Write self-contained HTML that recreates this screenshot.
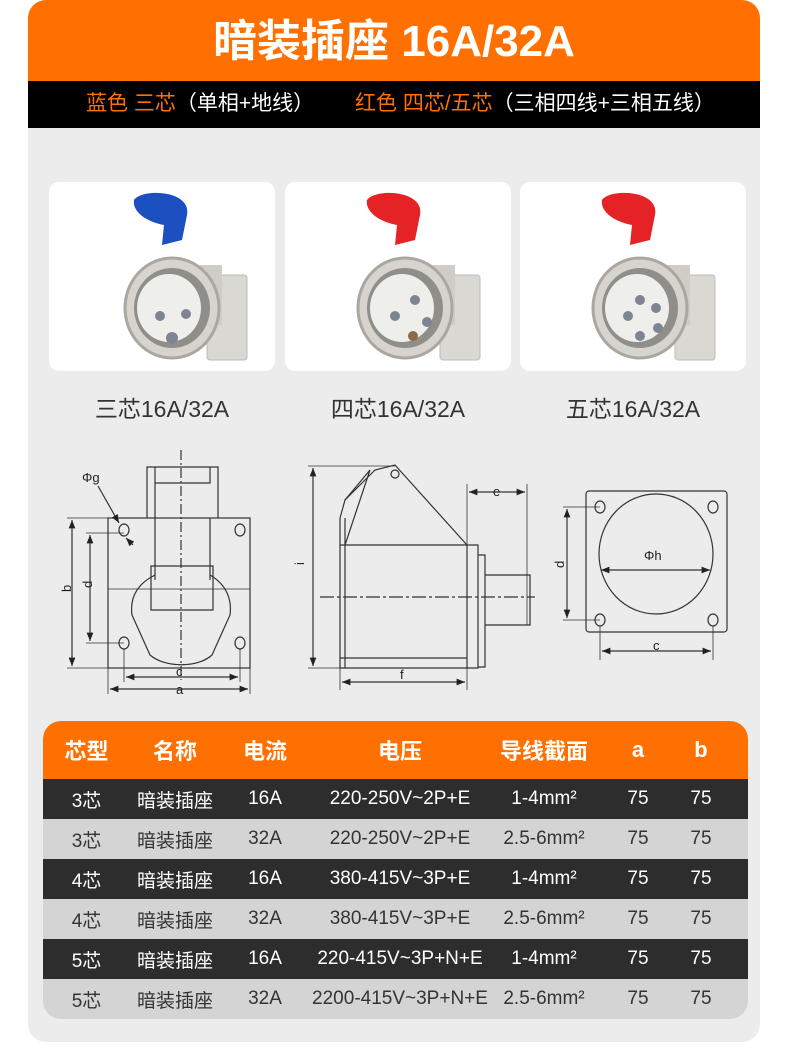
<!DOCTYPE html>
<html><head><meta charset="utf-8"><style>
body{margin:0;width:790px;height:1056px;background:#fff;font-family:"Liberation Sans","Noto Sans CJK SC",sans-serif;position:relative;overflow:hidden}
.panel{position:absolute;left:28px;top:0;width:732px;height:1042px;background:#ececec;border-radius:18px;overflow:hidden}
.hdr{position:absolute;left:0;top:0;width:732px;height:81px;background:#ff7000;color:#fff;font-size:44px;font-weight:bold;text-align:center;line-height:84px}
.bar{position:absolute;left:0;top:81px;width:732px;height:47px;background:#000;color:#fff;font-size:21px;line-height:46px;white-space:nowrap}
.o{color:#ff7000}
.card{position:absolute;top:182px;width:226px;height:189px;background:#fff;border-radius:10px}
.lab{position:absolute;top:390px;font-size:23px;color:#333;width:226px;text-align:center}
table{position:absolute;left:15px;top:721px;width:705px;border-collapse:collapse;border-radius:18px;overflow:hidden;table-layout:fixed}
td,th{text-align:center;padding:0;height:40px;font-size:19px;font-weight:normal}
th{height:58px;background:#ff7000;color:#fff;font-size:22px;font-weight:bold}
tr.d td{background:#2d2d2d;color:#fff}
tr.l td{background:#d4d4d4;color:#333}
td:last-child,th:last-child{padding-right:24px}
</style></head><body>
<div class="panel">
<div class="hdr">暗装插座 16A/32A</div>
<div class="bar"><span style="position:absolute;left:58px"><span class="o">蓝色 三芯</span>（单相+地线）</span><span style="position:absolute;left:327px"><span class="o">红色 四芯/五芯</span>（三相四线+三相五线）</span></div>
<div class="card" style="left:21px"></div>
<div class="card" style="left:257px"></div>
<div class="card" style="left:492px"></div>
<div class="lab" style="left:21px">三芯16A/32A</div>
<div class="lab" style="left:257px">四芯16A/32A</div>
<div class="lab" style="left:492px">五芯16A/32A</div>
<table>
<colgroup><col style="width:87px"><col style="width:90px"><col style="width:90px"><col style="width:180px"><col style="width:108px"><col style="width:80px"><col style="width:70px"></colgroup>
<tr><th>芯型</th><th>名称</th><th>电流</th><th>电压</th><th>导线截面</th><th>a</th><th>b</th></tr>
<tr class="d"><td>3芯</td><td>暗装插座</td><td>16A</td><td>220-250V~2P+E</td><td>1-4mm²</td><td>75</td><td>75</td></tr>
<tr class="l"><td>3芯</td><td>暗装插座</td><td>32A</td><td>220-250V~2P+E</td><td>2.5-6mm²</td><td>75</td><td>75</td></tr>
<tr class="d"><td>4芯</td><td>暗装插座</td><td>16A</td><td>380-415V~3P+E</td><td>1-4mm²</td><td>75</td><td>75</td></tr>
<tr class="l"><td>4芯</td><td>暗装插座</td><td>32A</td><td>380-415V~3P+E</td><td>2.5-6mm²</td><td>75</td><td>75</td></tr>
<tr class="d"><td>5芯</td><td>暗装插座</td><td>16A</td><td>220-415V~3P+N+E</td><td>1-4mm²</td><td>75</td><td>75</td></tr>
<tr class="l"><td>5芯</td><td>暗装插座</td><td>32A</td><td>2200-415V~3P+N+E</td><td>2.5-6mm²</td><td>75</td><td>75</td></tr>
</table>
</div>
<svg width="790" height="1056" style="position:absolute;left:0;top:0" xmlns="http://www.w3.org/2000/svg">
<defs>
<marker id="a" viewBox="0 0 10 10" refX="10" refY="5" markerWidth="7" markerHeight="7" orient="auto-start-reverse"><path d="M0,1L10,5L0,9z" fill="#222"/></marker>
<g id="sock">
<rect x="35" y="75" width="40" height="85" rx="3" fill="#d9d8d2" stroke="#bbb"/>
<rect x="5" y="65" width="45" height="60" fill="#cfcdc6"/>
<ellipse cx="0" cy="108" rx="47" ry="50" fill="#d6d4cd" stroke="#a9a7a0" stroke-width="3"/>
<ellipse cx="0" cy="108" rx="38" ry="40" fill="#8f8e88"/>
<ellipse cx="-3" cy="108" rx="32" ry="34" fill="#eeeeea"/>
</g>
</defs>
<g transform="translate(172,200)">
<use href="#sock"/>
<path d="M-38,0 C-30,-12 20,-10 15,15 L10,40 L-10,45 L-8,25 C-25,22 -40,12 -38,0z" fill="#1c4fbf"/>
<circle cx="-12" cy="116" r="5" fill="#7c8591"/><circle cx="14" cy="114" r="5" fill="#7c8591"/><circle cx="0" cy="138" r="6" fill="#7c8591"/>
</g>
<g transform="translate(405,200)">
<use href="#sock"/>
<path d="M-38,0 C-30,-12 20,-10 15,15 L10,40 L-10,45 L-8,25 C-25,22 -40,12 -38,0z" fill="#e52226"/>
<circle cx="-10" cy="116" r="5" fill="#7c8591"/><circle cx="10" cy="100" r="5" fill="#7c8591"/><circle cx="22" cy="122" r="5" fill="#7c8591"/><circle cx="8" cy="136" r="5" fill="#8a6b50"/>
</g>
<g transform="translate(640,200)">
<use href="#sock"/>
<path d="M-38,0 C-30,-12 20,-10 15,15 L10,40 L-10,45 L-8,25 C-25,22 -40,12 -38,0z" fill="#e52226"/>
<circle cx="-12" cy="116" r="5" fill="#7c8591"/><circle cx="0" cy="100" r="5" fill="#7c8591"/><circle cx="16" cy="108" r="5" fill="#7c8591"/><circle cx="18" cy="128" r="5" fill="#7c8591"/><circle cx="0" cy="136" r="5" fill="#7c8591"/>
</g>
<g fill="none" stroke="#333" stroke-width="1.2" font-family="Liberation Sans" font-size="12">
<rect x="108" y="518" width="142" height="150"/>
<path d="M147,518V467H218V518"/><path d="M155,518V467"/><path d="M155,483H210V467"/>
<path d="M155,518V580M210,518V580"/>
<path d="M155,575C135,585 130,600 132,615L150,655C165,668 198,668 212,655L230,615C232,600 227,585 210,575"/>
<path d="M151,566H213V610H151z"/>
<path d="M181,450V680" stroke-dasharray="10,3,2,3"/><path d="M108,589H250" stroke-width="0.8"/>
<ellipse cx="124" cy="530" rx="5" ry="6"/><ellipse cx="240" cy="530" rx="5" ry="6"/><ellipse cx="124" cy="643" rx="5" ry="6"/><ellipse cx="240" cy="643" rx="5" ry="6"/>
<path d="M67,518H108M67,668H108M86,533H124M86,643H124" stroke-width="0.8"/>
<path d="M72,520V666" marker-start="url(#a)" marker-end="url(#a)"/>
<path d="M90,535V641" marker-start="url(#a)" marker-end="url(#a)"/>
<path d="M124,649V682M240,649V682M108,668V694M250,668V694" stroke-width="0.8"/>
<path d="M126,677H238" marker-start="url(#a)" marker-end="url(#a)"/>
<path d="M110,689H248" marker-start="url(#a)" marker-end="url(#a)"/>
<path d="M98,486L119,523" marker-end="url(#a)"/><path d="M133,545L126,538" marker-end="url(#a)"/>
<path d="M340,518V668H467V545H478V668H467"/><path d="M345,518V668"/>
<path d="M340,518L345,500L375,470L395,465L467,545"/><path d="M340,545H467"/>
<path d="M345,500L370,470L345,545"/>
<circle cx="395" cy="474" r="4"/>
<path d="M340,658H467"/><path d="M478,555H485V667H478"/><path d="M485,575H530V625H485"/>
<path d="M320,597H535" stroke-dasharray="14,3,3,3"/>
<path d="M308,466H395M308,668H340" stroke-width="0.8"/>
<path d="M313,468V666" marker-start="url(#a)" marker-end="url(#a)"/>
<path d="M340,668V690M467,668V690M467,484V545M527,484V625" stroke-width="0.8"/>
<path d="M342,682H465" marker-start="url(#a)" marker-end="url(#a)"/>
<path d="M469,492H525" marker-start="url(#a)" marker-end="url(#a)"/>
<rect x="586" y="491" width="141" height="141" rx="3"/>
<ellipse cx="656" cy="554" rx="57" ry="60"/>
<ellipse cx="600" cy="507" rx="5" ry="6"/><ellipse cx="713" cy="507" rx="5" ry="6"/><ellipse cx="600" cy="620" rx="5" ry="6"/><ellipse cx="713" cy="620" rx="5" ry="6"/>
<path d="M601,570H710" marker-start="url(#a)" marker-end="url(#a)"/>
<path d="M563,507H600M563,620H600M600,626V660M713,626V660" stroke-width="0.8"/>
<path d="M567,509V618" marker-start="url(#a)" marker-end="url(#a)"/>
<path d="M602,651H711" marker-start="url(#a)" marker-end="url(#a)"/>
</g>
<g font-family="Liberation Sans" font-size="13" fill="#222">
<text x="82" y="482">Φg</text>
<text x="176" y="676">c</text><text x="176" y="694">a</text>
<text x="67" y="596" transform="rotate(-90 67 592)">b</text>
<text x="88" y="592" transform="rotate(-90 88 588)">d</text>
<text x="298" y="567" transform="rotate(-90 300 563)">i</text>
<text x="400" y="679">f</text><text x="493" y="496">e</text>
<text x="644" y="560">Φh</text><text x="653" y="650">c</text>
<text x="556" y="568" transform="rotate(-90 560 564)">d</text>
</g>
</svg>
</body></html>
